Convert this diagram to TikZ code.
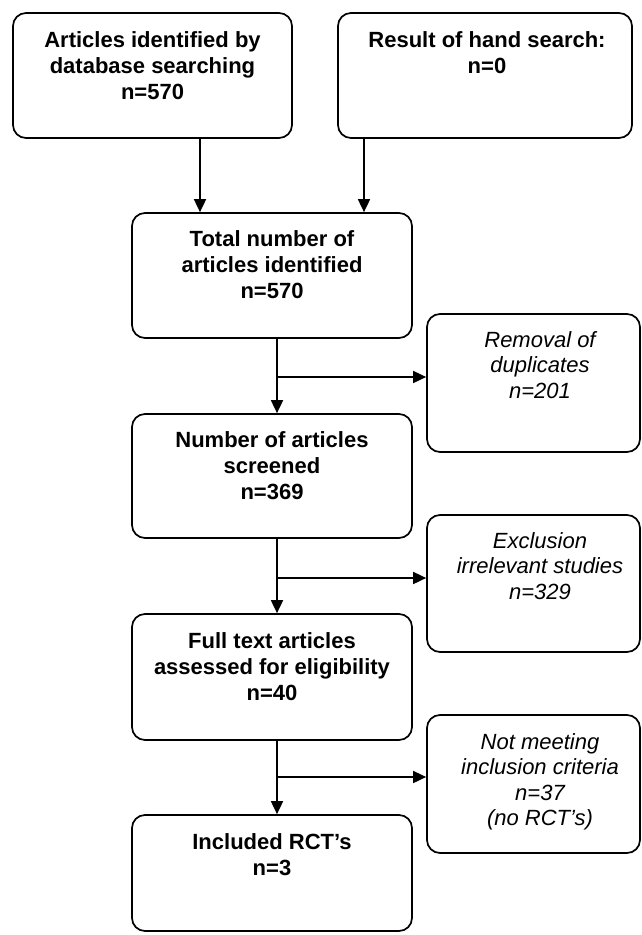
\documentclass[tikz,border=0pt]{standalone}
\usepackage{fontspec}
\setmainfont{Liberation Sans}
\usetikzlibrary{arrows.meta}
\begin{document}
\begin{tikzpicture}[x=1pt,y=-1pt,
  box/.style={draw=black, line width=1.7pt, rounded corners=13pt, inner sep=0pt},
  mtxt/.style={anchor=north, align=center, inner sep=0pt, font=\fontsize{22}{26}\selectfont\bfseries},
  stxt/.style={anchor=north, align=center, inner sep=0pt, font=\fontsize{22}{25.5}\selectfont\itshape},
  arr/.style={line width=1.7pt, -{Triangle[length=13pt,width=12pt]}}]
\useasboundingbox (0,0) rectangle (641,935);
% boxes
\node[box, minimum width=279pt, minimum height=125pt] (b1) at (152.5,75.5) {};
\node[box, minimum width=294pt, minimum height=125pt] (b2) at (485,75.5) {};
\node[box, minimum width=280pt, minimum height=125pt] (b3) at (272,275.5) {};
\node[box, minimum width=213pt, minimum height=138pt] (b4) at (533.5,383) {};
\node[box, minimum width=280pt, minimum height=124pt] (b5) at (272,476) {};
\node[box, minimum width=213pt, minimum height=137pt] (b6) at (533.5,583.5) {};
\node[box, minimum width=280pt, minimum height=126pt] (b7) at (272,677) {};
\node[box, minimum width=213pt, minimum height=138pt] (b8) at (533.5,784) {};
\node[box, minimum width=280pt, minimum height=116pt] (b9) at (272,873) {};
% texts
\node[mtxt] (t1) at ([yshift=-19pt]b1.north) {Articles identified by\\database searching\\n=570};
\node[mtxt] (t2) at ([xshift=2pt,yshift=-19pt]b2.north) {Result of hand search:\\n=0};
\node[mtxt] (t3) at ([yshift=-18pt]b3.north) {Total number of\\articles identified\\n=570};
\node[stxt] (t4) at ([xshift=6.5pt,yshift=-18pt]b4.north) {Removal of\\duplicates\\n=201};
\node[mtxt] (t5) at ([yshift=-18pt]b5.north) {Number of articles\\screened\\n=369};
\node[stxt] (t6) at ([xshift=6.5pt,yshift=-18pt]b6.north) {Exclusion\\irrelevant studies\\n=329};
\node[mtxt] (t7) at ([yshift=-19pt]b7.north) {Full text articles\\assessed for eligibility\\n=40};
\node[stxt] (t8) at ([xshift=6.5pt,yshift=-19pt]b8.north) {Not meeting\\inclusion criteria\\n=37\\(no RCT’s)};
\node[mtxt] (t9) at ([yshift=-19pt]b9.north) {Included RCT’s\\n=3};
% connectors
\coordinate (a1) at ([xshift=47.5pt]b1.south);
\coordinate (a2) at ([xshift=-121pt]b2.south);
\draw[arr] (a1) -- (a1 |- b3.north);
\draw[arr] (a2) -- (a2 |- b3.north);
\coordinate (m3) at ([xshift=5pt]b3.south);
\coordinate (m5) at ([xshift=5pt]b5.south);
\coordinate (m7) at ([xshift=5pt]b7.south);
\draw[arr] (m3) -- (m3 |- b5.north);
\draw[arr] (m5) -- (m5 |- b7.north);
\draw[arr] (m7) -- (m7 |- b9.north);
\coordinate (j1) at (m3 |- 0,377);
\coordinate (j2) at (m5 |- 0,578);
\coordinate (j3) at (m7 |- 0,777);
\draw[arr] (j1) -- (j1 -| b4.west);
\draw[arr] (j2) -- (j2 -| b6.west);
\draw[arr] (j3) -- (j3 -| b8.west);
\end{tikzpicture}
\end{document}
